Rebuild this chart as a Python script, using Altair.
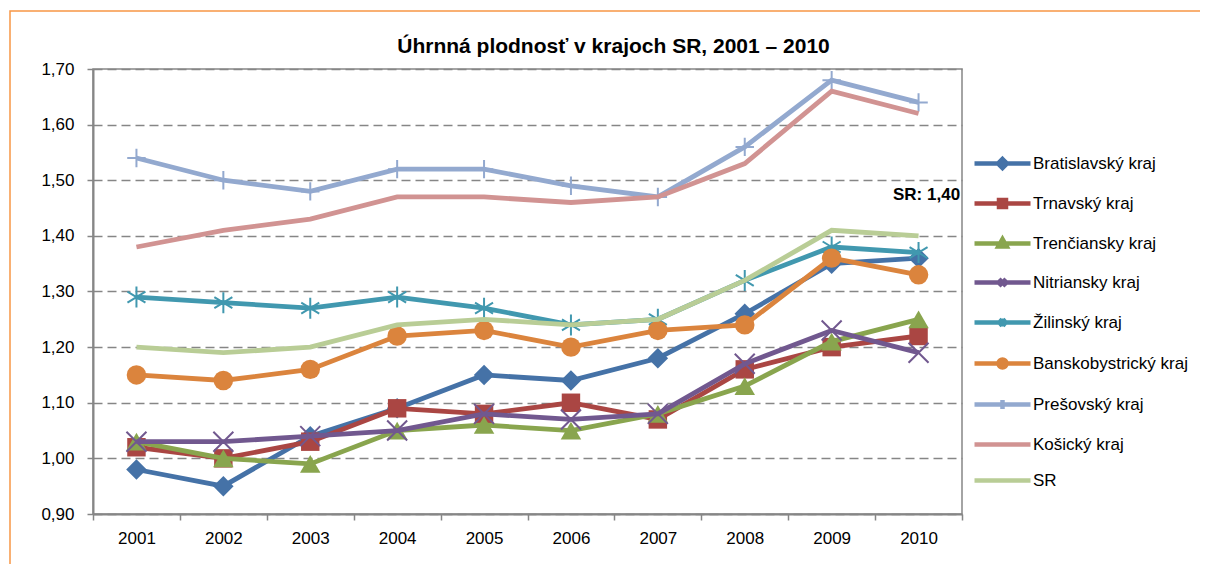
import altair as alt
import pandas as pd

years = ["2001", "2002", "2003", "2004", "2005", "2006", "2007", "2008", "2009", "2010"]
series = ["Bratislavský kraj", "Trnavský kraj", "Trenčiansky kraj", "Nitriansky kraj",
          "Žilinský kraj", "Banskobystrický kraj", "Prešovský kraj", "Košický kraj", "SR"]

bratislavsky = [0.98, 0.95, 1.04, 1.09, 1.15, 1.14, 1.18, 1.26, 1.35, 1.36]
trnavsky = [1.02, 1.00, 1.03, 1.09, 1.08, 1.10, 1.07, 1.16, 1.20, 1.22]
trenciansky = [1.03, 1.00, 0.99, 1.05, 1.06, 1.05, 1.08, 1.13, 1.21, 1.25]
nitriansky = [1.03, 1.03, 1.04, 1.05, 1.08, 1.07, 1.08, 1.17, 1.23, 1.19]
zilinsky = [1.29, 1.28, 1.27, 1.29, 1.27, 1.24, 1.25, 1.32, 1.38, 1.37]
banskobystricky = [1.15, 1.14, 1.16, 1.22, 1.23, 1.20, 1.23, 1.24, 1.36, 1.33]
presovsky = [1.54, 1.50, 1.48, 1.52, 1.52, 1.49, 1.47, 1.56, 1.68, 1.64]
kosicky = [1.38, 1.41, 1.43, 1.47, 1.47, 1.46, 1.47, 1.53, 1.66, 1.62]
sr = [1.20, 1.19, 1.20, 1.24, 1.25, 1.24, 1.25, 1.32, 1.41, 1.40]

y_ticks = [0.9, 1.0, 1.1, 1.2, 1.3, 1.4, 1.5, 1.6, 1.7]
title_text = "Úhrnná plodnosť v krajoch SR, 2001 – 2010"
annot_text = ["SR: 1,40"]
annot_year = ["2010"]
annot_value = [1.474]

colors = ["#4572A7", "#AA4643", "#89A54E", "#71588F", "#4198AF",
          "#DB843D", "#93A9CF", "#D19392", "#B9CD96"]

# plot markers (shape, filled, size, strokeWidth)
X_PATH = "M-1,-1L1,1M-1,1L1,-1"
AST_PATH = "M0,-1.05L0,1.05M-0.9,-0.55L0.9,0.55M-0.9,0.55L0.9,-0.55"
PLUS_PATH = "M0,-1L0,1M-1,0L1,0"
markers = {
    "Bratislavský kraj": ("diamond", True, 420, 0),
    "Trnavský kraj": ("square", True, 340, 0),
    "Trenčiansky kraj": ("triangle-up", True, 420, 0),
    "Nitriansky kraj": (X_PATH, False, 400, 2),
    "Žilinský kraj": (AST_PATH, False, 400, 2),
    "Banskobystrický kraj": ("circle", True, 380, 0),
    "Prešovský kraj": (PLUS_PATH, False, 340, 2),
}

LINE = "M-2.8,0L2.8,0"
legend_paths = [
    LINE + "M0,-0.45L0.45,0L0,0.45L-0.45,0Z",
    LINE + "M-0.35,-0.35L0.35,-0.35L0.35,0.35L-0.35,0.35Z",
    LINE + "M0,-0.45L0.42,0.3L-0.42,0.3Z",
    LINE + "M-0.35,-0.35L0.35,0.35M-0.35,0.35L0.35,-0.35",
    LINE + "M-0.35,-0.3L0.35,0.3M-0.35,0.3L0.35,-0.3M0,-0.4L0,0.4",
    LINE + "M-0.4,0A0.4,0.4 0 1,0 0.4,0A0.4,0.4 0 1,0 -0.4,0Z",
    LINE + "M0,-0.45L0,0.45",
    LINE,
    LINE,
]

values = [bratislavsky, trnavsky, trenciansky, nitriansky, zilinsky,
          banskobystricky, presovsky, kosicky, sr]
rows = []
for name, vals in zip(series, values):
    for yr, v in zip(years, vals):
        rows.append({"series": name, "year": yr, "value": v})
df = pd.DataFrame(rows)
annot = pd.DataFrame({"year": annot_year, "value": annot_value, "text": annot_text})

FONT = "Liberation Sans, Arial, sans-serif"
FS = 17
GRAY = "#868686"

x_enc = alt.X("year:O", scale=alt.Scale(type="band", domain=years, paddingInner=0, paddingOuter=0),
              axis=alt.Axis(title=None, labelAngle=0, tickBand="extent", labelFontSize=FS,
                            labelFont=FONT, labelColor="#000000", labelPadding=10, tickSize=6,
                            tickColor=GRAY, domainColor=GRAY, domainWidth=2, tickWidth=1.5, grid=False))
y_enc = alt.Y("value:Q", scale=alt.Scale(domain=[0.9, 1.7], nice=False, zero=False),
              axis=alt.Axis(title=None, values=y_ticks,
                            labelExpr="replace(format(datum.value, '.2f'), '.', ',')",
                            labelFontSize=FS, labelFont=FONT, labelColor="#000000", labelPadding=13,
                            tickSize=6, tickColor=GRAY, tickWidth=1.5, domainColor=GRAY, domainWidth=2,
                            grid=True, gridColor=GRAY, gridDash=[9, 5], gridWidth=1.5))

base = alt.Chart(df)

# orange outer frame
frame = alt.Chart(pd.DataFrame({"a": [0]})).mark_rect(
    fill=None, stroke="#F79646", strokeWidth=1.5
).encode(x=alt.value(-83), x2=alt.value(2000), y=alt.value(-58), y2=alt.value(2000))

layers = [frame]
for name, col in zip(series, colors):
    sub = base.transform_filter(alt.datum.series == name)
    layers.append(sub.mark_line(color=col, strokeWidth=4.8).encode(x=x_enc, y=y_enc))
    if name in markers:
        shp, filled, size, sw = markers[name]
        if filled:
            mk = sub.mark_point(shape=shp, filled=True, fill=col, size=size, opacity=1, strokeWidth=0)
        else:
            mk = sub.mark_point(shape=shp, filled=False, stroke=col, size=size, opacity=1, strokeWidth=sw)
        layers.append(mk.encode(x=x_enc, y=y_enc))

leg = alt.Legend(title=None, orient="none", legendX=897, legendY=82, direction="vertical",
                 labelFont=FONT, labelFontSize=FS, labelColor="#000000", labelLimit=300,
                 labelOffset=18, rowPadding=14, symbolSize=400, symbolStrokeWidth=4.5,
                 symbolOpacity=1)
legend_layer = base.transform_filter("false").mark_point(filled=True, size=400, strokeWidth=4.5, opacity=1).encode(
    x=x_enc, y=y_enc,
    fill=alt.Fill("series:N", scale=alt.Scale(domain=series, range=colors), legend=leg),
    stroke=alt.Stroke("series:N", scale=alt.Scale(domain=series, range=colors), legend=leg),
    shape=alt.Shape("series:N", scale=alt.Scale(domain=series, range=legend_paths), legend=leg),
)
layers.append(legend_layer)

text_layer = alt.Chart(annot).mark_text(font=FONT, fontSize=FS, fontWeight="bold", color="#000000",
                                        align="center", dx=8).encode(x=x_enc, y=y_enc, text="text:N")
layers.append(text_layer)

chart = alt.layer(*layers).properties(
    width=869, height=445,
    title=alt.TitleParams(title_text, font=FONT, fontSize=21, fontWeight="bold", color="#000000",
                          anchor="middle", frame="group", dx=86, dy=59, offset=12),
    autosize=alt.AutoSizeParams(type="none"),
    padding={"left": 85, "top": 61, "right": 238, "bottom": 50},
).configure_view(stroke=GRAY, strokeWidth=1.5)

chart.save("out.html", embed_options={"renderer": "svg", "actions": False})
